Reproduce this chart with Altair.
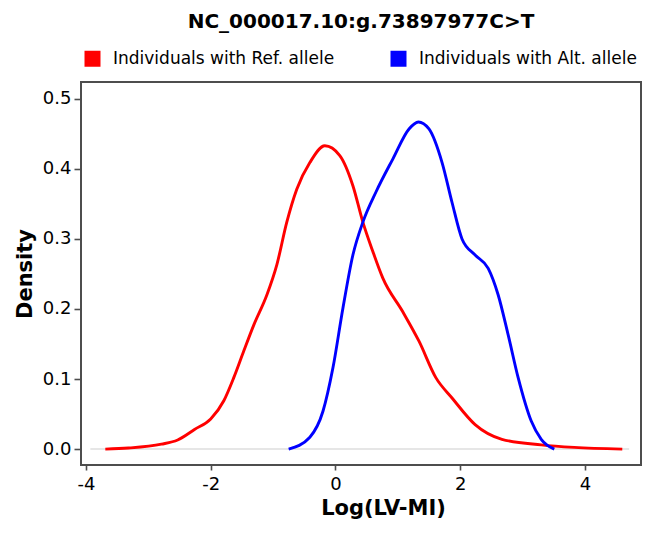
import altair as alt
import pandas as pd

title_text = "NC_000017.10:g.73897977C>T"
series_names = ["Individuals with Ref. allele", "Individuals with Alt. allele"]
series_colors = ["#ff0000", "#0000ff"]
x_ticks = [-4, -2, 0, 2, 4]
y_ticks = [0.0, 0.1, 0.2, 0.3, 0.4, 0.5]

ref_x = [-3.69, -3.32, -2.79, -2.53, -2.26, -2.00, -1.79, -1.63, -1.47, -1.31,
         -1.10, -0.94, -0.78, -0.62, -0.41, -0.17, 0.07, 0.28, 0.44, 0.60,
         0.76, 1.08, 1.34, 1.61, 1.87, 2.24, 2.67, 3.30, 3.83, 4.60]
ref_y = [0.000, 0.0015, 0.007, 0.013, 0.028, 0.043, 0.069, 0.102, 0.140, 0.177,
         0.220, 0.263, 0.324, 0.371, 0.409, 0.433, 0.419, 0.376, 0.324, 0.282,
         0.244, 0.196, 0.154, 0.102, 0.073, 0.035, 0.014, 0.006, 0.0024, 0.000]

alt_x = [-0.75, -0.41, -0.20, -0.04, 0.12, 0.28, 0.44, 0.65, 0.92, 1.18,
         1.33, 1.50, 1.71, 1.87, 2.03, 2.24, 2.45, 2.61, 2.77, 2.93,
         3.14, 3.30, 3.51]
alt_y = [0.000, 0.017, 0.054, 0.116, 0.201, 0.277, 0.324, 0.367, 0.414, 0.457,
         0.467, 0.457, 0.409, 0.352, 0.300, 0.277, 0.258, 0.220, 0.163, 0.102,
         0.040, 0.014, 0.000]

baseline_x = [-3.93, 4.71]
baseline_y = [0.0]

rows = []
for i, (x, y) in enumerate(zip(ref_x, ref_y)):
    rows.append({"x": x, "y": y, "group": series_names[0], "order": i})
for i, (x, y) in enumerate(zip(alt_x, alt_y)):
    rows.append({"x": x, "y": y, "group": series_names[1], "order": i})
df = pd.DataFrame(rows)
base_df = pd.DataFrame({"x": [baseline_x[0]], "x2": [baseline_x[1]], "y": baseline_y})

FONT = "DejaVu Sans"
FRAME = "#4d4d4d"
xscale = alt.Scale(domain=[-4.08, 4.9], nice=False, zero=False)
yscale = alt.Scale(domain=[-0.0227, 0.524], nice=False, zero=False)

xaxis = alt.Axis(values=x_ticks, title="Log(LV-MI)", labelExpr="'' + datum.value",
                 grid=False, domain=False, tickColor=FRAME, tickWidth=1.6, tickSize=5,
                 labelFontSize=18, labelPadding=5, labelColor="black", labelFont=FONT,
                 titleFontSize=21, titleFontWeight="bold", titlePadding=4, titleX=302,
                 titleColor="black", titleFont=FONT)
yaxis = alt.Axis(values=y_ticks, format=".1f", title="Density",
                 grid=False, domain=False, tickColor=FRAME, tickWidth=1.6, tickSize=7,
                 labelFontSize=18, labelPadding=3, labelColor="black", labelFont=FONT,
                 titleFontSize=21, titleFontWeight="bold", titlePadding=7,
                 titleColor="black", titleFont=FONT)

legend = alt.Legend(title=None, orient="none", legendX=3, legendY=-32,
                    direction="horizontal", symbolType="square", symbolSize=256,
                    symbolStrokeWidth=0, labelFontSize=17, labelOffset=12,
                    columnPadding=55, labelFont=FONT, labelColor="black", labelLimit=400,
                    symbolOpacity=1)

color_scale = alt.Scale(domain=series_names, range=series_colors)

baseline = alt.Chart(base_df).mark_rule(color="#e6e6e6", strokeWidth=2).encode(
    x=alt.X("x:Q", scale=xscale, axis=xaxis),
    x2="x2:Q",
    y=alt.Y("y:Q", scale=yscale, axis=yaxis),
)

lines = alt.Chart(df).mark_line(strokeWidth=2.9, interpolate="monotone").encode(
    x=alt.X("x:Q", scale=xscale, axis=xaxis),
    y=alt.Y("y:Q", scale=yscale, axis=yaxis),
    color=alt.Color("group:N", scale=color_scale, legend=legend),
    order="order:Q",
)

# invisible filled squares so that the legend shows filled square swatches
swatches = alt.Chart(df).mark_square(size=0, filled=True).encode(
    x=alt.X("x:Q", scale=xscale, axis=xaxis),
    y=alt.Y("y:Q", scale=yscale, axis=yaxis),
    color=alt.Color("group:N", scale=color_scale, legend=legend),
)

chart = alt.layer(baseline, lines, swatches).properties(
    width=560, height=383,
    autosize=alt.AutoSizeParams(type="none"),
    padding={"left": 73, "top": 74, "right": 1, "bottom": 55},
    title=alt.TitleParams(text=title_text, fontSize=20, fontWeight="bold", font=FONT,
                          anchor="middle", offset=18, color="black", frame="group"),
).configure(
    font=FONT,
    view=alt.ViewConfig(stroke=FRAME, strokeWidth=2),
)

chart.save("out.html", embed_options={"renderer": "svg", "actions": False})
